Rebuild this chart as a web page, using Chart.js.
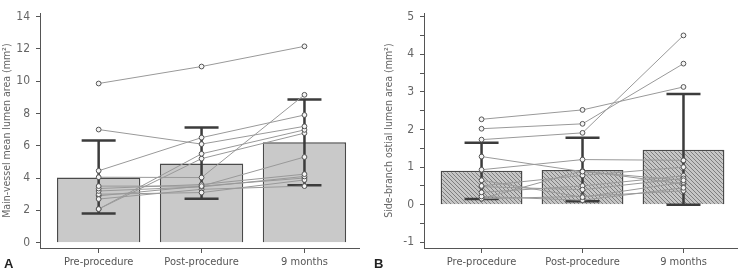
<!DOCTYPE html>
<html>
<head>
<meta charset="utf-8">
<script src="https://cdn.jsdelivr.net/npm/chart.js@4"></script>
<style>
  body { margin: 0; background: #fff; }
  .wrap { display: flex; width: 742px; height: 272px; }
  canvas { display: block; }
</style>
</head>
<body>
<div class="wrap">
  <canvas id="chartA" width="371" height="272"></canvas>
  <canvas id="chartB" width="371" height="272"></canvas>
</div>
<script>
const categories = ['Pre-procedure', 'Post-procedure', '9 months'];

// main vessel: mean and mean +/- SD
const mvMean = [4.03, 4.9, 6.22];
const mvLow = [1.8, 2.71, 3.56];
const mvHigh = [6.32, 7.13, 8.86];
// individual patients (pre, post, 9 months)
const mvPatients = [
  [9.85, 10.9, 12.15],
  [7.0, 6.1, 7.2],
  [4.45, 6.5, 7.9],
  [4.05, 4.03, 9.15],
  [2.08, 5.5, 6.98],
  [2.08, 5.2, 6.78],
  [3.5, 3.5, 5.3],
  [3.35, 3.6, 4.24],
  [3.2, 3.45, 4.1],
  [3.0, 3.1, 3.88],
  [2.7, 3.3, 3.5],
  [2.9, 3.5, 4.0]
];

// side branch ostium
const sbMean = [0.9, 0.92, 1.46];
const sbLow = [0.15, 0.09, 0.0];
const sbHigh = [1.65, 1.78, 2.94];
const sbPatients = [
  [2.27, 2.52, 3.13],
  [2.02, 2.15, 3.75],
  [1.73, 1.91, 4.5],
  [1.28, 0.88, 0.65],
  [0.93, 1.2, 1.18],
  [0.65, 0.2, 0.6],
  [0.5, 0.78, 1.0],
  [0.48, 0.4, 0.7],
  [0.33, 0.5, 0.77],
  [0.22, 0.12, 0.45],
  [0.16, 0.22, 0.37],
  [0.16, 0.9, 0.55]
];

const FONT = "'DejaVu Sans Condensed', 'Liberation Sans Narrow', 'Roboto', sans-serif";
const axisColor = '#555';

function hatch() {
  const c = document.createElement('canvas');
  c.width = 4; c.height = 4;
  const g = c.getContext('2d');
  g.fillStyle = '#c6c6c6';
  g.fillRect(0, 0, 4, 4);
  g.strokeStyle = '#7e7e7e';
  g.lineWidth = 1;
  g.beginPath();
  g.moveTo(0, 0); g.lineTo(4, 4);
  g.moveTo(-1, 3); g.lineTo(1, 5);
  g.moveTo(3, -1); g.lineTo(5, 1);
  g.stroke();
  return g.createPattern(c, 'repeat');
}

const errorBars = {
  id: 'errorBars',
  afterDatasetDraw(chart, args, opts) {
    if (args.meta.type !== 'bar') return;
    const ctx = chart.ctx, xs = chart.scales.x, ys = chart.scales.y;
    ctx.save();
    ctx.strokeStyle = '#3c3c3c';
    ctx.lineWidth = 2.5;
    opts.low.forEach((lo, i) => {
      const x = xs.getPixelForValue(i);
      const y1 = ys.getPixelForValue(lo), y2 = ys.getPixelForValue(opts.high[i]);
      ctx.beginPath();
      ctx.moveTo(x, y1); ctx.lineTo(x, y2);
      ctx.moveTo(x - 17, y1); ctx.lineTo(x + 17, y1);
      ctx.moveTo(x - 17, y2); ctx.lineTo(x + 17, y2);
      ctx.stroke();
    });
    ctx.restore();
  }
};

const panelLabel = {
  id: 'panelLabel',
  afterDraw(chart, args, opts) {
    const ctx = chart.ctx;
    ctx.save();
    ctx.fillStyle = '#222';
    ctx.font = "bold 13px 'Liberation Sans', Arial, sans-serif";
    ctx.textBaseline = 'alphabetic';
    ctx.fillText(opts.text, opts.x, 268);
    ctx.restore();
  }
};

function makeChart(id, cfg) {
  const datasets = [{
    type: 'bar',
    data: cfg.mean.map((v, i) => ({ x: i, y: v })),
    backgroundColor: cfg.fill,
    borderColor: '#4a4a4a',
    borderWidth: 1.5,
    barPercentage: 1,
    categoryPercentage: 0.81,
    order: 2
  }];
  cfg.patients.forEach(p => {
    datasets.push({
      type: 'line',
      data: p.map((v, i) => ({ x: i, y: v })),
      borderColor: '#999',
      borderWidth: 1,
      pointRadius: 2.4,
      pointBackgroundColor: '#f4f4f4',
      pointBorderColor: '#555',
      pointBorderWidth: 1,
      tension: 0,
      order: 1
    });
  });

  return new Chart(document.getElementById(id), {
    data: { datasets },
    plugins: [errorBars, panelLabel],
    options: {
      responsive: false,
      devicePixelRatio: 1,
      animation: false,
      layout: { padding: { top: 13, right: cfg.padRight, left: 0, bottom: 0 } },
      plugins: {
        legend: { display: false },
        tooltip: { enabled: false },
        errorBars: { low: cfg.low, high: cfg.high },
        panelLabel: { text: cfg.label, x: cfg.labelX }
      },
      scales: {
        x: {
          type: 'linear',
          offset: false,
          min: -0.57,
          max: 2.53,
          afterFit: s => { s.height = 24; },
          border: { color: axisColor, width: 1 },
          grid: { drawOnChartArea: false, tickLength: 5, color: axisColor, offset: false },
          ticks: {
            stepSize: 1,
            includeBounds: false,
            padding: 3,
            color: '#555',
            font: { family: FONT, size: 11 },
            callback: v => categories[v]
          }
        },
        y: {
          min: cfg.yMin,
          max: cfg.yMax,
          afterFit: s => { s.width = cfg.axisWidth; },
          border: { color: axisColor, width: 1 },
          grid: { drawOnChartArea: false, tickLength: 4, color: axisColor },
          title: {
            display: true,
            text: cfg.title,
            color: '#666',
            font: { family: FONT, size: 10.5 },
            padding: { top: cfg.titlePad, bottom: 0 }
          },
          ticks: {
            stepSize: cfg.step,
            includeBounds: false,
            padding: 6,
            color: '#666',
            font: { family: FONT, size: 12 },
            callback: v => Number.isInteger(Math.round(v * 1000) / 1000) && (Math.round(v) % cfg.labelEvery === 0) ? Math.round(v) : ''
          }
        }
      }
    }
  });
}

makeChart('chartA', {
  mean: mvMean, low: mvLow, high: mvHigh, patients: mvPatients,
  fill: '#c9c9c9', yMin: -0.33, yMax: 14.2, step: 1, labelEvery: 2,
  title: 'Main-vessel mean lumen area (mm²)', titlePad: 1,
  axisWidth: 40, padRight: 12, label: 'A', labelX: 4
});

makeChart('chartB', {
  mean: sbMean, low: sbLow, high: sbHigh, patients: sbPatients,
  fill: hatch(), yMin: -1.15, yMax: 5.09, step: 0.5, labelEvery: 1,
  title: 'Side-branch ostial lumen area (mm²)', titlePad: 12,
  axisWidth: 53, padRight: 1, label: 'B', labelX: 3
});
</script>
</body>
</html>
